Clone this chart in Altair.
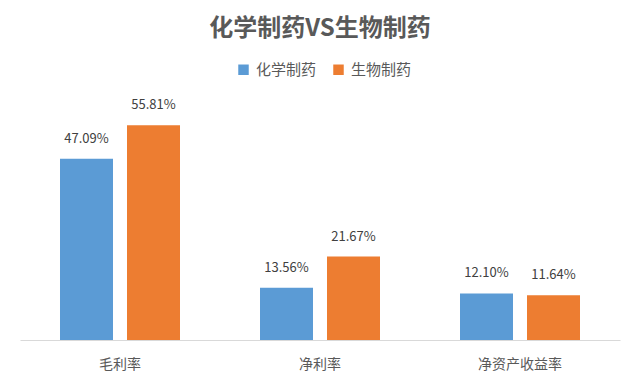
import altair as alt
import pandas as pd

categories = ["毛利率", "净利率", "净资产收益率"]
series = ["化学制药", "生物制药"]
chem = [47.09, 13.56, 12.10]
bio = [55.81, 21.67, 11.64]

rows = []
for i, c in enumerate(categories):
    rows.append({"cat": c, "series": series[0], "value": chem[i], "label": f"{chem[i]:.2f}%"})
    rows.append({"cat": c, "series": series[1], "value": bio[i], "label": f"{bio[i]:.2f}%"})
df = pd.DataFrame(rows)

FONT = "Noto Sans CJK SC"

x = alt.X("cat:N", sort=categories, title=None,
          scale=alt.Scale(paddingInner=0, paddingOuter=0),
          axis=alt.Axis(labelAngle=0, ticks=False, domainColor="#d9d9d9", domainWidth=1,
                        labelFont=FONT, labelFontSize=14, labelColor="#595959",
                        labelPadding=17))
xoff = alt.XOffset("series:N", sort=series,
                   scale=alt.Scale(paddingInner=0.209, paddingOuter=0.597))
y = alt.Y("value:Q", scale=alt.Scale(domain=[0, 60]), axis=None)

bars = alt.Chart(df).mark_bar().encode(
    x=x, xOffset=xoff, y=y,
    color=alt.Color("series:N", sort=series,
                    scale=alt.Scale(domain=series, range=["#5B9BD5", "#ED7D31"]),
                    legend=alt.Legend(title=None, orient="none", direction="horizontal",
                                      legendX=216, legendY=-47, symbolType="square",
                                      symbolSize=110, symbolStrokeWidth=0,
                                      labelFont=FONT, labelFontSize=15, labelColor="#595959",
                                      columnPadding=14, labelOffset=5))
)

labels = alt.Chart(df).mark_text(dy=-20, font=FONT, fontSize=13, color="#404040").encode(
    x=x, xOffset=xoff, y=y, text="label:N"
)

chart = (bars + labels).properties(
    width=600, height=231,
    background="white",
    title=alt.TitleParams("化学制药VS生物制药", font=FONT, fontSize=24, fontWeight="bold",
                          color="#595959", anchor="middle", offset=21),
    autosize=alt.AutoSizeParams(type="none"),
    padding={"left": 12, "top": 101, "right": 12, "bottom": 40},
).configure_view(strokeWidth=0, stroke=None)

chart.save("out.html", embed_options={"renderer": "svg", "actions": False})
